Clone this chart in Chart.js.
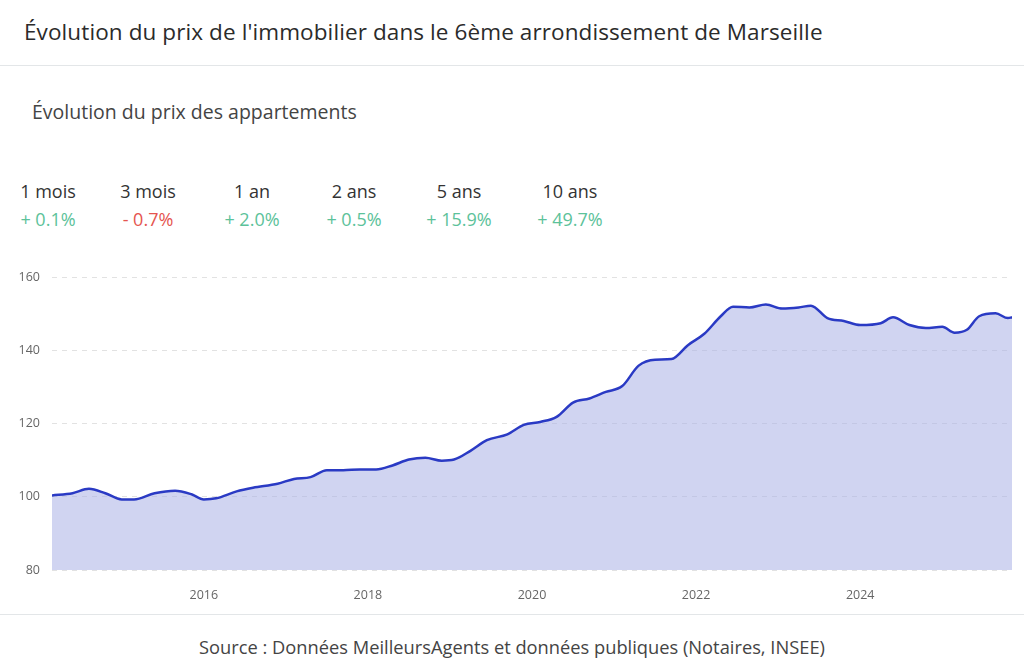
<!DOCTYPE html>
<html><head><meta charset="utf-8">
<script src="https://cdn.jsdelivr.net/npm/chart.js@4"></script>
<style>
body{margin:0;width:1024px;height:665px;background:#fff;font-family:"Open Sans",sans-serif;color:#333;position:relative;overflow:hidden}
.title{position:absolute;left:24px;top:16px;font-size:22.5px;font-weight:500;color:#2b2b2b;letter-spacing:0.1px}
.hr{position:absolute;left:0;width:1024px;height:1px;background:#e3e6e8}
.sub{position:absolute;left:32px;top:98px;font-size:19.5px;color:#444}
.stat{position:absolute;top:179px;text-align:center;font-size:18px}
.stat .v{margin-top:4px}
.pos{color:#5cc29a}.neg{color:#e5554f}
.src{position:absolute;top:634px;width:1024px;text-align:center;font-size:18.3px;color:#444}
#wrap{position:absolute;left:10px;top:258px;width:1002px;height:356px}
</style></head><body>
<div class="title">Évolution du prix de l'immobilier dans le 6ème arrondissement de Marseille</div>
<div class="hr" style="top:65px"></div>
<div class="sub">Évolution du prix des appartements</div>
<div id="stats"></div>
<div id="wrap"><canvas id="c"></canvas></div>
<div class="hr" style="top:614px"></div>
<div class="src">Source : Données MeilleursAgents et données publiques (Notaires, INSEE)</div>
<script>
const statLabels = ["1 mois","3 mois","1 an","2 ans","5 ans","10 ans"];
const statValues = ["+ 0.1%","- 0.7%","+ 2.0%","+ 0.5%","+ 15.9%","+ 49.7%"];
const statCenters = [48,148,252,354,459,570];

const years = [2014.15,2014.4,2014.6,2014.8,2015.0,2015.15,2015.4,2015.65,2015.85,2016.0,2016.15,2016.4,2016.6,2016.9,2017.1,2017.3,2017.5,2017.7,2017.9,2018.1,2018.3,2018.5,2018.7,2018.9,2019.05,2019.25,2019.45,2019.7,2019.9,2020.1,2020.3,2020.5,2020.7,2020.9,2021.1,2021.3,2021.5,2021.7,2021.9,2022.1,2022.3,2022.45,2022.65,2022.85,2023.05,2023.25,2023.4,2023.6,2023.8,2024.0,2024.25,2024.4,2024.6,2024.8,2025.0,2025.15,2025.3,2025.45,2025.65,2025.8,2025.85];
const prices = [100.4,101,102.2,101,99.3,99.3,101,101.7,100.7,99.3,99.6,101.5,102.5,103.6,104.9,105.4,107.3,107.3,107.5,107.5,108.6,110.2,110.7,109.9,110.2,112.6,115.5,117.1,119.7,120.5,121.9,125.8,126.9,128.7,130.3,135.9,137.5,137.7,141.5,144.6,149.4,152,151.8,152.6,151.5,151.8,152.3,148.9,148.1,147,147.5,149.1,147,146.2,146.5,144.9,145.7,149.4,150.2,148.9,149.1];

const st = document.getElementById("stats");
statLabels.forEach((l,i)=>{
  const d=document.createElement("div");d.className="stat";
  d.style.left=(statCenters[i]-60)+"px";d.style.width="120px";
  d.innerHTML='<div>'+l+'</div><div class="v '+(statValues[i][0]==="-"?"neg":"pos")+'">'+statValues[i]+'</div>';
  st.appendChild(d);
});

new Chart(document.getElementById("c"),{
  type:"line",
  data:{datasets:[{data:years.map((x,i)=>({x:x,y:prices[i]})),borderColor:"#2a3ac4",borderWidth:2.5,
    backgroundColor:"rgba(170,176,230,0.55)",fill:"start",pointRadius:0,tension:0.4,cubicInterpolationMode:"monotone"}]},
  options:{responsive:true,maintainAspectRatio:false,animation:false,
    layout:{padding:{top:1}},
    plugins:{legend:{display:false},tooltip:{enabled:false}},
    scales:{
      x:{type:"linear",min:2014.15,max:2025.85,afterFit:s=>{s.height=44},
        grid:{display:false},border:{display:false},
        afterBuildTicks:s=>{s.ticks=[2016,2018,2020,2022,2024].map(v=>({value:v}))},
        ticks:{color:"#666",font:{family:"Open Sans",size:12.5},padding:10,callback:v=>String(v)}},
      y:{min:80,max:160,afterFit:s=>{s.width=42},
        grid:{color:"#e2e2e2",drawTicks:false},border:{display:false,dash:[5,5]},
        ticks:{stepSize:20,color:"#666",font:{family:"Open Sans",size:12.5},padding:12}}
    }}
});
</script>
</body></html>
